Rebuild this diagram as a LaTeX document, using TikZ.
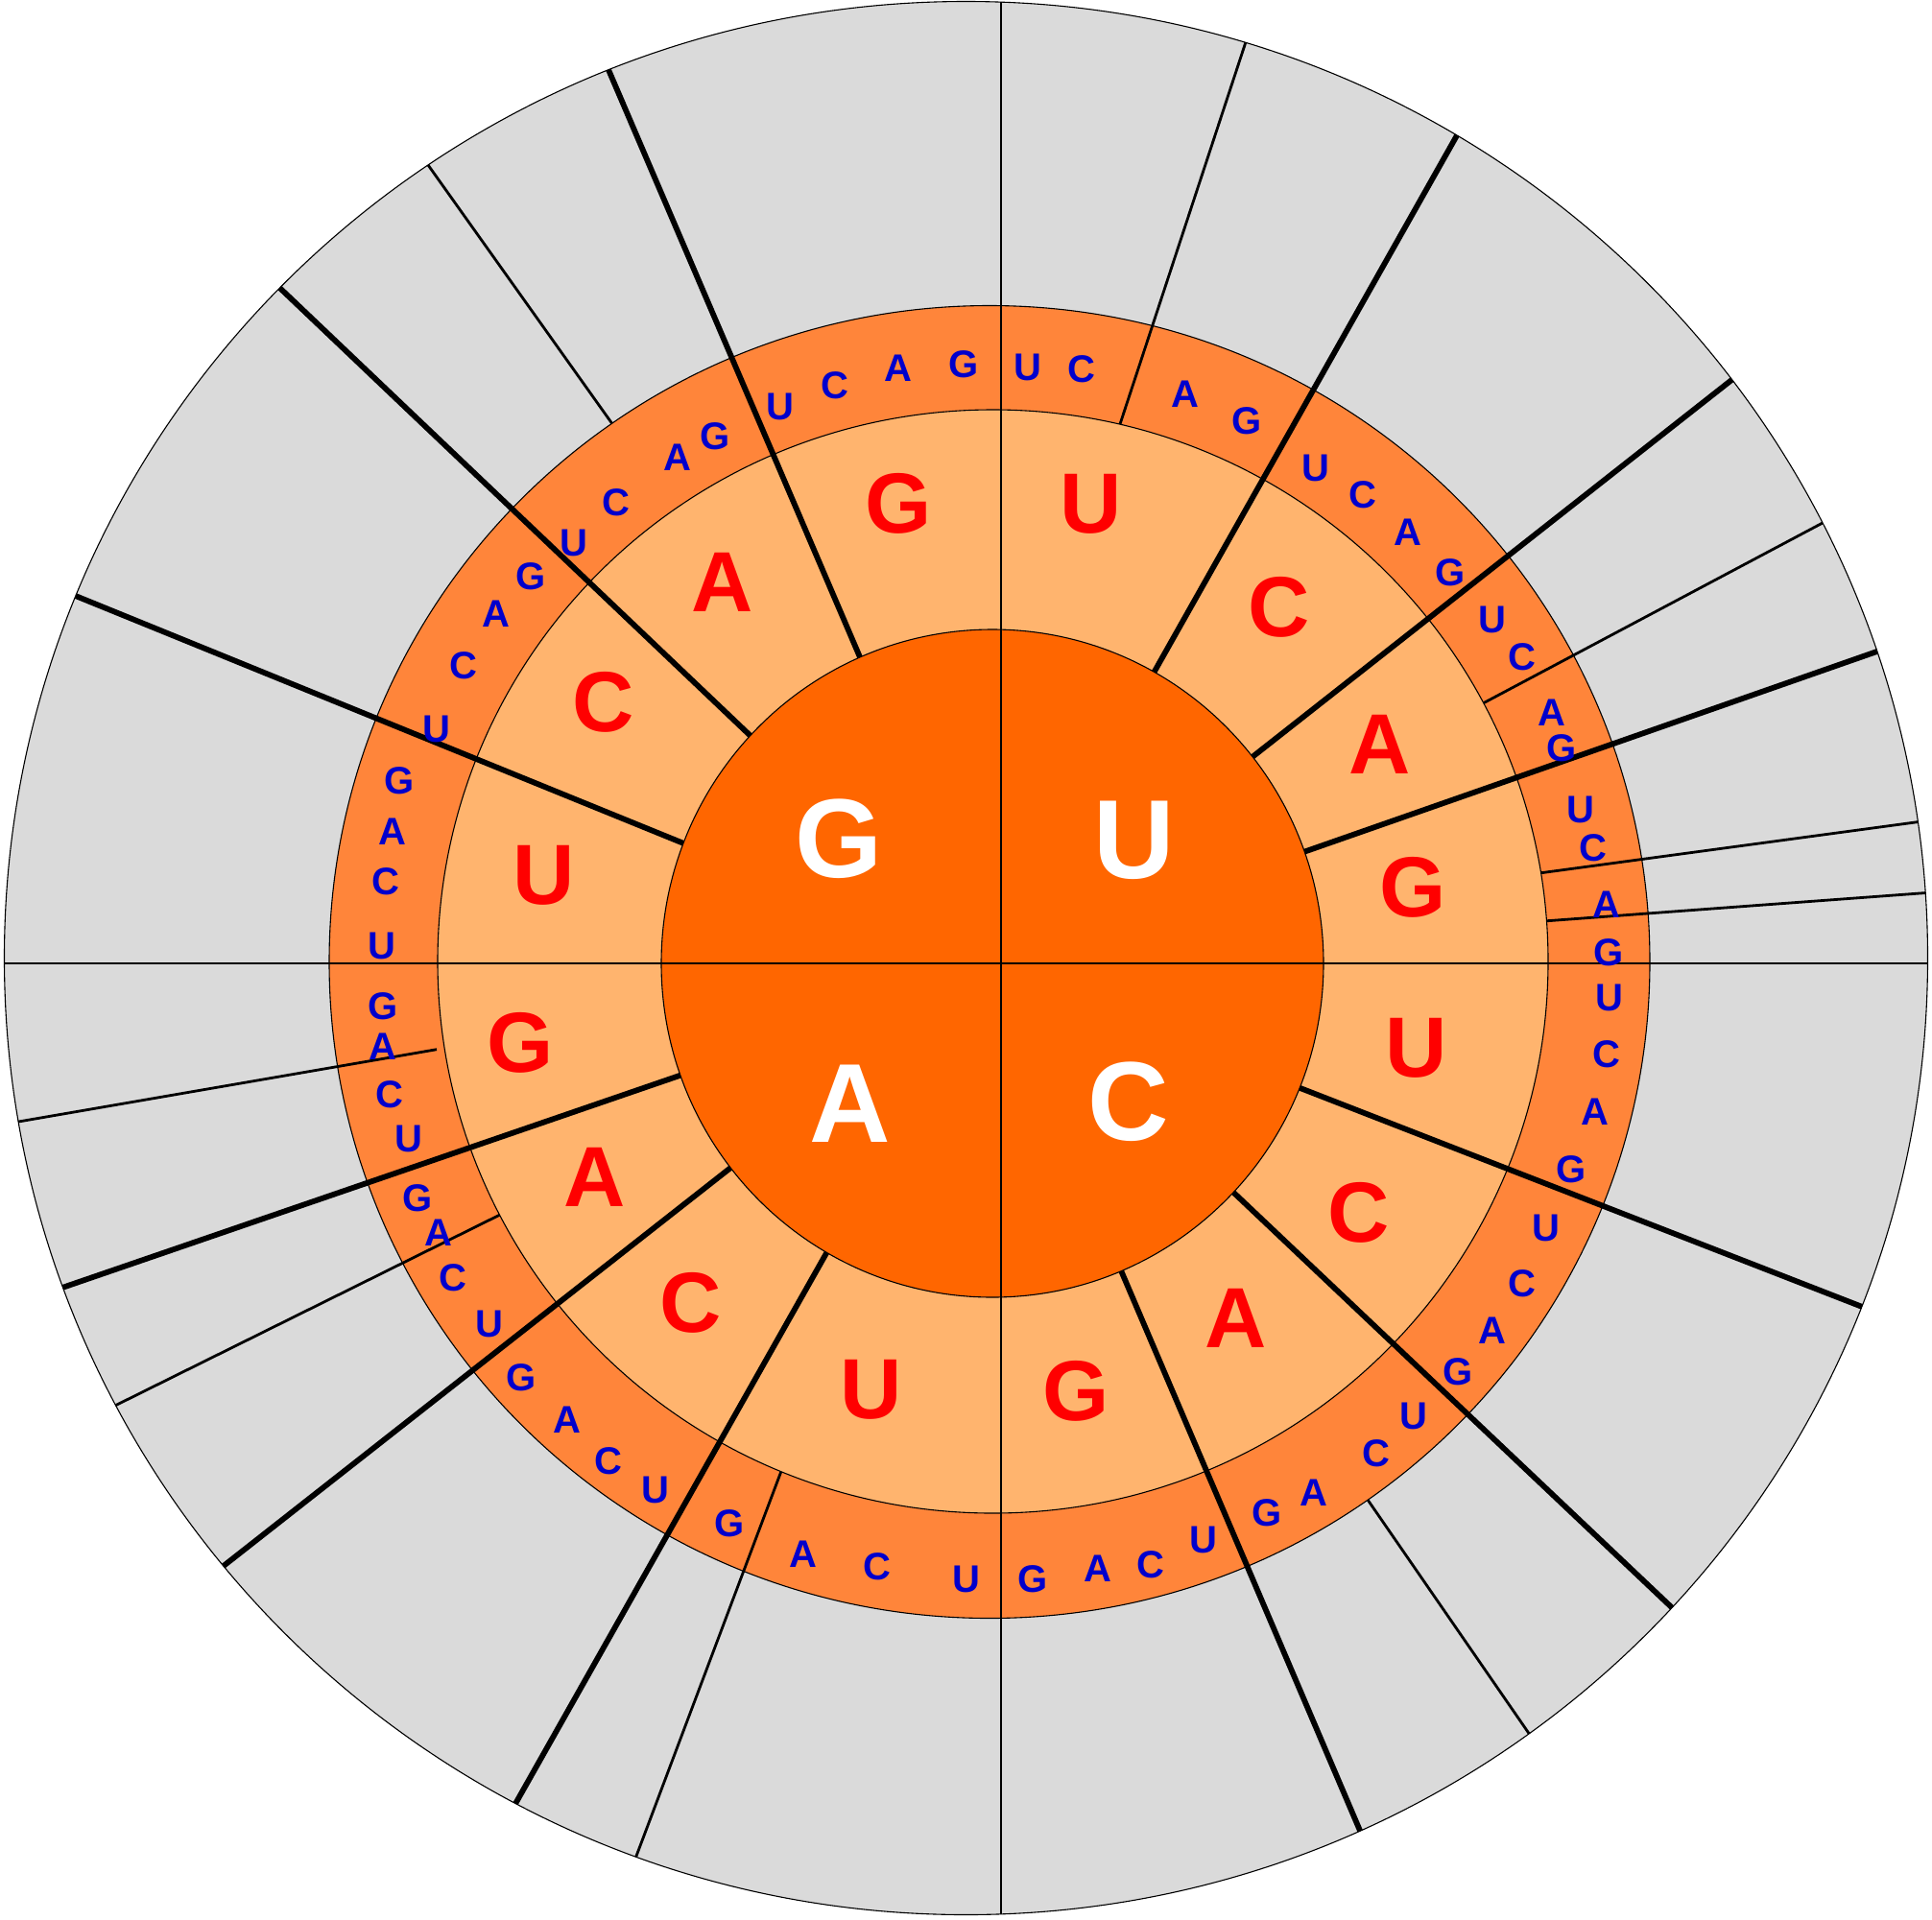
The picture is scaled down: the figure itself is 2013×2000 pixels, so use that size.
\documentclass[tikz,border=0pt]{standalone}
\usepackage{fontspec}
\setmainfont{Liberation Sans}
\usetikzlibrary{calc}
\definecolor{bgray}{RGB}{218,218,218}
\definecolor{ringout}{RGB}{255,133,58}
\definecolor{ringmid}{RGB}{255,180,110}
\definecolor{core}{RGB}{255,102,0}
\definecolor{lblue}{RGB}{0,0,204}
\newcommand\radln[4]{\draw[#1] ($#2!#4!#3$) -- ($#2!2600pt!#3$);}
\begin{document}
\begin{tikzpicture}[x=1pt,y=-1pt,
  heavy/.style={line width=5.8pt},
  thinl/.style={line width=2.8pt},
  axis/.style={line width=2.6pt},
  rim/.style={line width=1.1pt},
  base/.style={font=\bfseries\fontsize{117}{117}\selectfont, text=white, inner sep=0pt},
  sec/.style={font=\bfseries\fontsize{89}{89}\selectfont, text=red, inner sep=0pt},
  cod/.style={font=\bfseries\fontsize{40}{40}\selectfont, text=lblue, inner sep=0pt},
]
\useasboundingbox (0,0) rectangle (2013,2000);
% outer grey disc
\fill[bgray] (1006.5,998.5) ellipse [x radius=1002pt, y radius=997pt];
\begin{scope}
\clip (1006.5,998.5) ellipse [x radius=1002pt, y radius=997pt];
% thin lines starting at the outer edge of the codon ring
\radln{thinl}{(636.7,440)}{(530,290)}{-3pt}
\radln{thinl}{(1425.7,1564)}{(1534,1721)}{-3pt}
% third-letter ring
\filldraw[fill=ringout, draw=black, rim] (1031,1002.5) ellipse [x radius=688pt, y radius=684pt];
% thin lines starting at the second-letter ring
\radln{thinl}{(1167,442)}{(1217,290)}{-3pt}
\radln{thinl}{(1545.7,732.7)}{(1761,618.3)}{-3pt}
\radln{thinl}{(1605.7,909.7)}{(1761,888.7)}{-3pt}
\radln{thinl}{(1612.3,959.7)}{(1761,948.7)}{-3pt}
\radln{thinl}{(813.7,1534)}{(743.3,1721)}{-3pt}
\radln{thinl}{(518.3,1267.3)}{(330,1360.7)}{-3pt}
\radln{thinl}{(455,1093.7)}{(330,1115.3)}{0pt}
% second-letter ring
\filldraw[fill=ringmid, draw=black, rim] (1034.5,1002) ellipse [x radius=578.5pt, y radius=575pt];
% heavy lines from the inner disc
\radln{heavy}{(895.3,683.3)}{(727,290)}{-12pt}
\radln{heavy}{(1203.7,698.3)}{(1434,290)}{-12pt}
\radln{heavy}{(1305.6,788.3)}{(1761,430)}{-12pt}
\radln{heavy}{(1359,887.7)}{(1704,767)}{-12pt}
\radln{heavy}{(1354,1133.7)}{(1637.3,1244)}{-12pt}
\radln{heavy}{(1283.8,1241.4)}{(1742.3,1675.7)}{-12pt}
\radln{heavy}{(1168.7,1325.7)}{(1337.3,1721)}{-12pt}
\radln{heavy}{(860.3,1307.3)}{(626.7,1721)}{-12pt}
\radln{heavy}{(761.3,1217)}{(330,1555.7)}{-12pt}
\radln{heavy}{(710,1120.3)}{(350,1244)}{-12pt}
\radln{heavy}{(711.7,878.7)}{(330,723.3)}{-12pt}
\radln{heavy}{(780,765)}{(330,336.7)}{-12pt}
% first-letter disc
\filldraw[fill=core, draw=black, rim] (1034,1004) ellipse [x radius=345pt, y radius=348pt];
% axes
\draw[axis] (1043,-20) -- (1043,2020);
\draw[axis] (-20,1004) -- (2030,1004);
\end{scope}
\draw[rim] (1006.5,998.5) ellipse [x radius=1002pt, y radius=997pt];
% first letters
\node[base] (bG) at (874,874.5) {G};
\node[base] (bU) at (1181.7,876) {U};
\node[base] (bA) at (886,1150.5) {A};
\node[base] (bC) at (1176,1148) {C};
% second letters
\foreach \l/\x/\y [count=\i] in {U/1136.5/525, C/1332.3/633.3, A/1438/775.5, G/1472.3/924.5,
  U/1476/1092, C/1416/1264, A/1288/1373.5, G/1121.2/1450,
  U/907.7/1448, C/719.2/1358.2, A/620/1227, G/542.2/1087,
  U/567/912, C/628.3/731.7, A/752.5/606.7, G/935.7/525}
  \node[sec] (s\i) at (\x,\y) {\l};
% third letters
\foreach \l/\x/\y [count=\i] in {
  U/1070.7/382.6, C/1127.2/385.1, A/1235.0/410.8, G/1299.2/439.1,
  U/1371.1/487.8, C/1419.9/516.1, A/1467.4/554.6, G/1511.0/597.0,
  U/1554.7/645.8, C/1585.5/684.3, A/1617.3/743.0, G/1626.6/779.3,
  U/1647.1/843.5, C/1659.7/884.0, A/1673.8/942.8, G/1676.0/992.6,
  U/1677.4/1039.7, C/1673.5/1099.2, A/1661.6/1158.8, G/1637.0/1218.9,
  U/1611.2/1279.9, C/1585.5/1337.7, A/1554.7/1386.5, G/1518.7/1430.2,
  U/1472.5/1476.4, C/1434.0/1514.9, A/1368.5/1556.0, G/1319.7/1576.5,
  U/1254.3/1604.8, C/1199.1/1630.4, A/1143.9/1634.3, G/1075.8/1645.8,
  U/1006.5/1645.8, C/914.1/1633.0, A/837.0/1620.2, G/760.0/1588.1,
  U/683.0/1553.4, C/634.2/1522.6, A/590.5/1480.2, G/543.0/1435.3,
  U/509.7/1380.1, C/472.4/1331.3, A/457.0/1285.1, G/435.2/1249.1,
  U/425.8/1187.3, C/406.0/1140.8, A/398.6/1090.8, G/399.2/1048.6,
  U/398.3/985.6, C/401.5/918.7, A/408.5/866.5, G/416.3/814.2,
  U/454.5/760.0, C/482.7/693.3, A/517.4/639.3, G/553.3/600.8,
  U/598.3/566.2, C/641.9/523.8, A/706.1/476.3, G/744.6/454.5,
  U/812.6/423.7, C/870.4/401.8, A/935.9/383.9, G/1003.9/380.0}
  \node[cod] (t\i) at (\x,\y) {\l};
\end{tikzpicture}
\end{document}
